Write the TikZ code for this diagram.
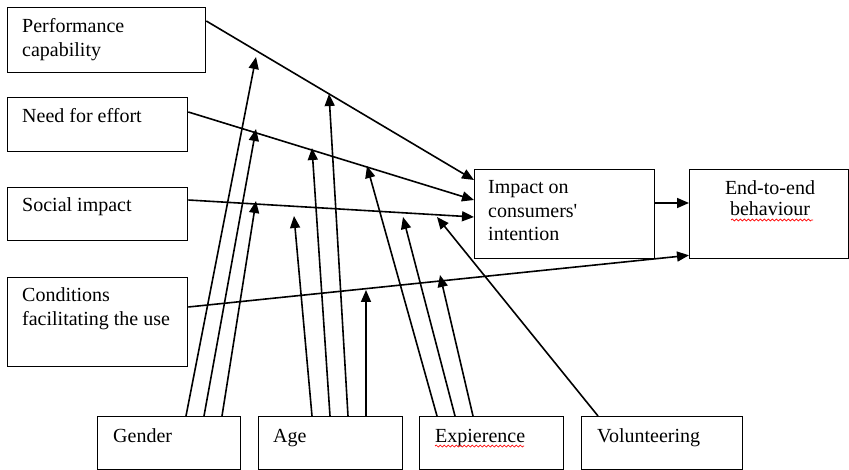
\documentclass[tikz,border=0pt]{standalone}
\usepackage{fontspec}
\setmainfont{Liberation Serif}
\newfontfamily\timesfont{Liberation Serif}
\usetikzlibrary{arrows.meta,decorations.pathmorphing}
\tikzset{
  box/.style={draw,line width=1.3pt,anchor=north west,inner sep=0pt},
  txt/.style={anchor=base west,inner sep=0pt,align=left,font=\timesfont\fontsize{20}{24}\selectfont},
  link/.style={line width=1.6pt,-{Triangle[length=12pt,width=10pt]}},
  squiggle/.style={red,line width=0.7pt,decorate,decoration={snake,amplitude=1pt,segment length=4pt}}
}
\begin{document}
\begin{tikzpicture}[x=1pt,y=-1pt]
\useasboundingbox (0,0) rectangle (849,470);
\node[box,minimum width=198pt,minimum height=65pt] (perf) at (7,7) {};
\node[box,minimum width=180pt,minimum height=54pt] (effort) at (7,97) {};
\node[box,minimum width=180pt,minimum height=53pt] (social) at (7,187) {};
\node[box,minimum width=180pt,minimum height=89pt] (cond) at (7,277) {};
\node[box,minimum width=180pt,minimum height=89pt] (impact) at (474,169) {};
\node[box,minimum width=159pt,minimum height=89pt] (e2e) at (689,169) {};
\node[box,minimum width=143pt,minimum height=53pt] (gender) at (97,416) {};
\node[box,minimum width=144pt,minimum height=53pt] (age) at (258,416) {};
\node[box,minimum width=144pt,minimum height=53pt] (exp) at (419,416) {};
\node[box,minimum width=161pt,minimum height=53pt] (vol) at (581,416) {};
\node[txt] (perftxt) at (22,57) {Performance\\capability};
\node[txt] (efforttxt) at (22,123) {Need for effort};
\node[txt] (socialtxt) at (22,212) {Social impact};
\node[txt] (condtxt) at (22,326) {Conditions\\facilitating the use};
\node[txt,font=\timesfont\fontsize{20}{23.5}\selectfont] (impacttxt) at (488,241) {Impact on\\consumers\symbol{"27}\\intention};
\node[txt,anchor=base,align=center,font=\timesfont\fontsize{20}{21}\selectfont] (e2etxt) at (770,216) {End-to-end\\behaviour};
\node[txt] (gendertxt) at (113,442) {Gender};
\node[txt] (agetxt) at (273,442) {Age};
\node[txt] (exptxt) at (435,442) {Expierence};
\node[txt] (voltxt) at (597,442) {Volunteering};
\draw[squiggle] (731,220) -- (813,220);
\draw[squiggle] (435,446) -- (524,446);
\draw[link] ([yshift=-14pt]perf.north east) -- ([yshift=-11pt]impact.north west);
\draw[link] ([yshift=-15pt]effort.north east) -- ([yshift=-31pt]impact.north west);
\draw[link] ([yshift=-13pt]social.north east) -- ([yshift=-48pt]impact.north west);
\draw[link] ([yshift=-30pt]cond.north east) -- ([yshift=4pt]e2e.south west);
\draw[link] ([yshift=-34pt]impact.north east) -- ([yshift=-34pt]e2e.north west);
\coordinate (g1) at (256,57);
\coordinate (g2) at (256,129);
\coordinate (g3) at (256,201);
\coordinate (a1) at (294,216);
\coordinate (a2) at (312,148);
\coordinate (a3) at (329,94);
\coordinate (a4) at (366,290);
\coordinate (x1) at (367,166);
\coordinate (x2) at (403,217);
\coordinate (x3) at (440,275);
\coordinate (v1) at (437,217);
\draw[link] ([xshift=89pt]gender.north west) -- (g1);
\draw[link] ([xshift=107pt]gender.north west) -- (g2);
\draw[link] ([xshift=125pt]gender.north west) -- (g3);
\draw[link] ([xshift=54pt]age.north west) -- (a1);
\draw[link] ([xshift=72pt]age.north west) -- (a2);
\draw[link] ([xshift=90pt]age.north west) -- (a3);
\draw[link] ([xshift=108pt]age.north west) -- (a4);
\draw[link] ([xshift=18pt]exp.north west) -- (x1);
\draw[link] ([xshift=36pt]exp.north west) -- (x2);
\draw[link] ([xshift=54pt]exp.north west) -- (x3);
\draw[link] ([xshift=17pt]vol.north west) -- (v1);
\end{tikzpicture}
\end{document}
